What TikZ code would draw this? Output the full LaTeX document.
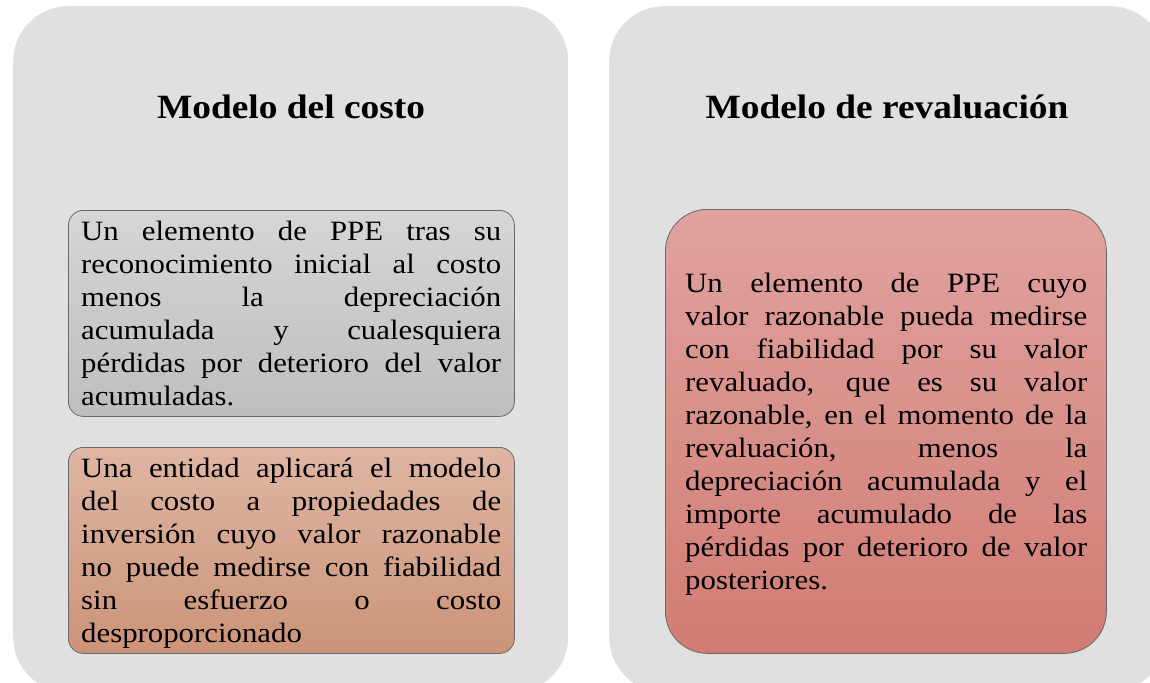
\documentclass[tikz,border=0pt]{standalone}
\usepackage{fontspec}
\setmainfont{Liberation Serif}
\definecolor{panelgray}{RGB}{224,224,224}
\definecolor{costtop}{RGB}{214,214,214}
\definecolor{costbot}{RGB}{190,190,190}
\definecolor{invtop}{RGB}{222,182,164}
\definecolor{invbot}{RGB}{204,147,120}
\definecolor{revtop}{RGB}{224,162,158}
\definecolor{revbot}{RGB}{209,124,116}
\definecolor{boxline}{RGB}{105,105,105}
\newlength{\colw}
\newcommand{\jline}[1]{\hbox to \colw{\spaceskip=0.25em plus 1fil\relax #1}}

\begin{document}
\begin{tikzpicture}[x=1pt, y=-1pt,
		panel/.style={fill=panelgray, rounded corners=55pt, anchor=north west, inner sep=0pt},
		card/.style={draw=boxline, line width=0.8pt, anchor=north west, inner sep=0pt},
		heading/.style={font=\fontsize{34}{40}\selectfont\bfseries, anchor=base, xscale=1.1},
		body/.style={font=\fontsize{28}{33}\selectfont, anchor=north west, inner sep=0pt, xscale=1.1,
			text width=#1, execute at begin node={\setlength{\colw}{#1}}}]
		\useasboundingbox (0,0) rectangle (1150,682);
		\clip (0,0) rectangle (1150,682);
		% the two columns
		\node[panel, minimum width=555pt, minimum height=686pt] (leftpanel) at (13,6) {};
		\node[panel, minimum width=556pt, minimum height=686pt] (rightpanel) at (609,6) {};
		\node[heading] (costtitle) at (291,118) {Modelo del costo};
		\node[heading] (revtitle) at (887,118) {Modelo de revaluación};
		% boxes
		\node[card, rounded corners=15pt, top color=costtop, bottom color=costbot, minimum width=446pt, minimum height=206pt] (costbox) at (68,210) {};
		\node[card, rounded corners=15pt, top color=invtop, bottom color=invbot, minimum width=446pt, minimum height=206pt] (invbox) at (68,447) {};
		\node[card, rounded corners=42pt, top color=revtop, bottom color=revbot, minimum width=441pt, minimum height=444pt] (revbox) at (665,209) {};
		% texts
		\node[body=381.8pt] (costtext) at (81,216.9) {%
			\jline{\strut Un elemento de PPE tras su}
			\jline{reconocimiento inicial al costo}
			\jline{menos la depreciación}
			\jline{acumulada y cualesquiera}
			\jline{pérdidas por deterioro del valor}
			acumuladas.};
		\node[body=381.8pt] (invtext) at (81,453.9) {%
			\jline{\strut Una entidad aplicará el modelo}
			\jline{del costo a propiedades de}
			\jline{inversión cuyo valor razonable}
			\jline{no puede medirse con fiabilidad}
			\jline{sin esfuerzo o costo}
			desproporcionado};
		\node[body=365.5pt] (revtext) at (685,268.9) {%
			\jline{\strut Un elemento de PPE cuyo}
			\jline{valor razonable pueda medirse}
			\jline{con fiabilidad por su valor}
			\jline{revaluado, que es su valor}
			\jline{razonable, en el momento de la}
			\jline{revaluación, menos la}
			\jline{depreciación acumulada y el}
			\jline{importe acumulado de las}
			\jline{pérdidas por deterioro de valor}
			posteriores.};
\end{tikzpicture}
\end{document}
